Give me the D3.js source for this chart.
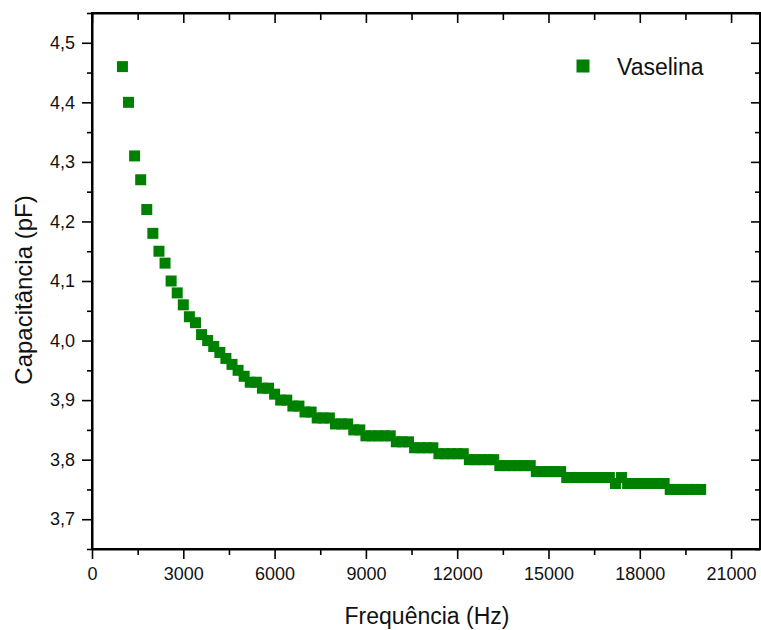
<!DOCTYPE html>
<html>
<head>
<meta charset="utf-8">
<script src="https://cdn.jsdelivr.net/npm/d3@7"></script>
<style>
  html, body { margin: 0; padding: 0; background: #fff; }
  svg { display: block; }
</style>
</head>
<body>
<div id="chart"></div>
<script>
// Capacitância x Frequência — Vaselina
const FREQ = [
  1000, 1200, 1400, 1600, 1800, 2000, 2200, 2400, 2600, 2800,
  3000, 3200, 3400, 3600, 3800, 4000, 4200, 4400, 4600, 4800,
  5000, 5200, 5400, 5600, 5800, 6000, 6200, 6400, 6600, 6800,
  7000, 7200, 7400, 7600, 7800, 8000, 8200, 8400, 8600, 8800,
  9000, 9200, 9400, 9600, 9800, 10000, 10200, 10400, 10600, 10800,
  11000, 11200, 11400, 11600, 11800, 12000, 12200, 12400, 12600, 12800,
  13000, 13200, 13400, 13600, 13800, 14000, 14200, 14400, 14600, 14800,
  15000, 15200, 15400, 15600, 15800, 16000, 16200, 16400, 16600, 16800,
  17000, 17200, 17400, 17600, 17800, 18000, 18200, 18400, 18600, 18800,
  19000, 19200, 19400, 19600, 19800, 20000
];
const CAP = [
  4.46, 4.40, 4.31, 4.27, 4.22, 4.18, 4.15, 4.13, 4.10, 4.08,
  4.06, 4.04, 4.03, 4.01, 4.00, 3.99, 3.98, 3.97, 3.96, 3.95,
  3.94, 3.93, 3.93, 3.92, 3.92, 3.91, 3.90, 3.90, 3.89, 3.89,
  3.88, 3.88, 3.87, 3.87, 3.87, 3.86, 3.86, 3.86, 3.85, 3.85,
  3.84, 3.84, 3.84, 3.84, 3.84, 3.83, 3.83, 3.83, 3.82, 3.82,
  3.82, 3.82, 3.81, 3.81, 3.81, 3.81, 3.81, 3.80, 3.80, 3.80,
  3.80, 3.80, 3.79, 3.79, 3.79, 3.79, 3.79, 3.79, 3.78, 3.78,
  3.78, 3.78, 3.78, 3.77, 3.77, 3.77, 3.77, 3.77, 3.77, 3.77,
  3.77, 3.76, 3.77, 3.76, 3.76, 3.76, 3.76, 3.76, 3.76, 3.76,
  3.75, 3.75, 3.75, 3.75, 3.75, 3.75
];
const X_TICKS = [0, 3000, 6000, 9000, 12000, 15000, 18000, 21000];
const X_MINOR = [1500, 4500, 7500, 10500, 13500, 16500, 19500];
const Y_TICKS = [3.7, 3.8, 3.9, 4.0, 4.1, 4.2, 4.3, 4.4, 4.5];
const Y_MINOR = [3.65, 3.75, 3.85, 3.95, 4.05, 4.15, 4.25, 4.35, 4.45, 4.55];
const SERIES_NAME = 'Vaselina';
const X_TITLE = 'Frequência (Hz)';
const Y_TITLE = 'Capacitância (pF)';

const W = 761, H = 630;
const m = { t: 13, r: 1, b: 81, l: 92 };
const FONT = 'Arial, "Liberation Sans", Helvetica, sans-serif';
const GREEN = '#008000';

const svg = d3.select('#chart').append('svg')
  .attr('width', W).attr('height', H)
  .attr('font-family', FONT);

const x = d3.scaleLinear().domain([0, 21950]).range([m.l, W - m.r]);
const y = d3.scaleLinear().domain([3.65, 4.55]).range([H - m.b, m.t]);

const fmtY = d => d.toFixed(1).replace('.', ',');

// markers
const pts = FREQ.map((f, i) => ({ f, c: CAP[i] }));
const ms = 11;
svg.append('g').selectAll('rect')
  .data(pts).join('rect')
  .attr('x', d => x(d.f) - ms / 2)
  .attr('y', d => y(d.c) - ms / 2)
  .attr('width', ms).attr('height', ms)
  .attr('fill', GREEN);

// axes — bottom / left outward ticks, top / right inward
const styleAxis = g => {
  g.select('.domain').attr('stroke', '#000').attr('stroke-width', 2);
  g.selectAll('.tick line').attr('stroke', '#000').attr('stroke-width', 1.6);
};

svg.append('g').attr('transform', `translate(0,${H - m.b})`)
  .call(d3.axisBottom(x).tickValues(X_TICKS).tickFormat(d3.format('d'))
    .tickSize(10).tickSizeOuter(0).tickPadding(8))
  .call(styleAxis)
  .call(g => g.selectAll('text').attr('font-size', 18).attr('fill', '#111').attr('font-family', FONT));
svg.append('g').attr('transform', `translate(0,${H - m.b})`)
  .call(d3.axisBottom(x).tickValues(X_MINOR).tickFormat('').tickSize(6).tickSizeOuter(0))
  .call(styleAxis)
  .call(g => g.select('.domain').remove());

svg.append('g').attr('transform', `translate(${m.l},0)`)
  .call(d3.axisLeft(y).tickValues(Y_TICKS).tickFormat(fmtY)
    .tickSize(10).tickSizeOuter(0).tickPadding(7))
  .call(styleAxis)
  .call(g => g.selectAll('text').attr('font-size', 18).attr('fill', '#111').attr('font-family', FONT));
svg.append('g').attr('transform', `translate(${m.l},0)`)
  .call(d3.axisLeft(y).tickValues(Y_MINOR).tickFormat('').tickSize(5).tickSizeOuter(0))
  .call(styleAxis)
  .call(g => g.select('.domain').remove());

svg.append('g').attr('transform', `translate(0,${m.t})`)
  .call(d3.axisBottom(x).tickValues(X_TICKS).tickFormat('').tickSize(10).tickSizeOuter(0))
  .call(styleAxis);
svg.append('g').attr('transform', `translate(0,${m.t})`)
  .call(d3.axisBottom(x).tickValues(X_MINOR).tickFormat('').tickSize(7).tickSizeOuter(0))
  .call(styleAxis)
  .call(g => g.select('.domain').remove());

svg.append('g').attr('transform', `translate(${W - m.r},0)`)
  .call(d3.axisLeft(y).tickValues(Y_TICKS).tickFormat('').tickSize(9).tickSizeOuter(0))
  .call(styleAxis);
svg.append('g').attr('transform', `translate(${W - m.r},0)`)
  .call(d3.axisLeft(y).tickValues(Y_MINOR).tickFormat('').tickSize(5).tickSizeOuter(0))
  .call(styleAxis)
  .call(g => g.select('.domain').remove());

// close the box
svg.append('rect')
  .attr('x', m.l).attr('y', m.t)
  .attr('width', W - m.r - m.l).attr('height', H - m.b - m.t)
  .attr('fill', 'none').attr('stroke', '#000').attr('stroke-width', 2);

// titles
svg.append('text')
  .attr('x', 427).attr('y', 624)
  .attr('text-anchor', 'middle')
  .attr('font-size', 23).attr('fill', '#111')
  .text(X_TITLE);
svg.append('text')
  .attr('transform', `translate(32,290) rotate(-90)`)
  .attr('text-anchor', 'middle')
  .attr('font-size', 24).attr('fill', '#111')
  .text(Y_TITLE);

// legend
const lg = svg.append('g').attr('transform', 'translate(583,66)');
lg.append('rect')
  .attr('x', -6.5).attr('y', -6.5).attr('width', 13).attr('height', 13)
  .attr('fill', GREEN);
lg.append('text')
  .attr('x', 34).attr('y', 8.5)
  .attr('font-size', 23).attr('fill', '#111')
  .text(SERIES_NAME);
</script>
</body>
</html>
